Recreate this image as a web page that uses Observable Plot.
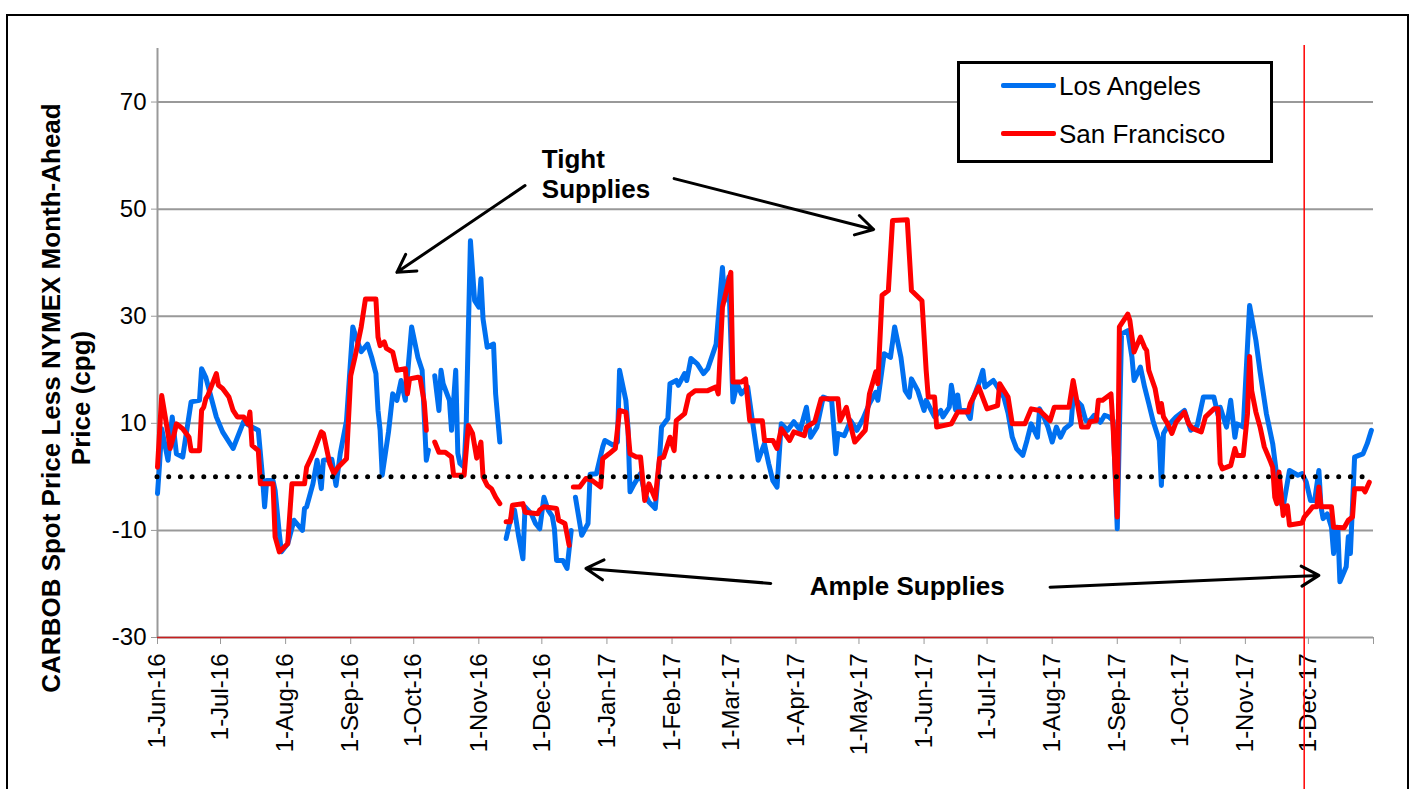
<!DOCTYPE html>
<html>
<head>
<meta charset="utf-8">
<script src="https://cdn.jsdelivr.net/npm/d3@7"></script>
<script src="https://cdn.jsdelivr.net/npm/@observablehq/plot@0.6"></script>
<style>
  html, body { margin: 0; padding: 0; background: #fff; }
  #wrap { position: relative; width: 1415px; height: 789px; overflow: hidden; font-family: "Liberation Sans", Arial, sans-serif; }
  #chart { position: absolute; left: 0; top: 0; }
  #frame { position: absolute; left: 6px; top: 14px; width: 1403px; height: 820px; border: 2px solid #000; box-sizing: border-box; pointer-events: none; }
  #legend { position: absolute; left: 957px; top: 61px; width: 316px; height: 102px; border: 3px solid #000; box-sizing: border-box; background: #fff; }
  .item { position: absolute; left: 0; width: 100%; height: 30px; }
  .swatch { position: absolute; left: 41px; width: 55px; height: 5px; top: 12px; border-radius: 2px; }
  .label { position: absolute; left: 99px; top: 0; font-size: 26px; line-height: 30px; color: #000; white-space: nowrap; }
</style>
</head>
<body>
<div id="wrap">
  <div id="chart"></div>
  <div id="frame"></div>
  <div id="legend"></div>
</div>
<script>
// ---------------- data ----------------
const seriesNames = ["Los Angeles", "San Francisco"];

const laSeries = [
  ["2016-06-01",-3.1],["2016-06-02",2.5],["2016-06-03",9],["2016-06-06",3.1],["2016-06-08",11.2],["2016-06-10",4.3],
  ["2016-06-13",3.7],["2016-06-17",14],["2016-06-21",14.3],["2016-06-22",20.2],["2016-06-24",18.6],["2016-06-29",11.2],
  ["2016-07-02",8.4],["2016-07-07",5.3],["2016-07-12",10.3],["2016-07-15",9.5],["2016-07-19",8.7],["2016-07-21",0],
  ["2016-07-22",-5.6],["2016-07-23",-0.7],["2016-07-26",-0.7],["2016-07-27",-2.5],["2016-07-29",-10.6],["2016-07-30",-14],
  ["2016-08-02",-12.5],["2016-08-05",-8.1],["2016-08-09",-10],["2016-08-10",-5.9],["2016-08-11",-5.6],["2016-08-14",-1.3],
  ["2016-08-16",3.1],["2016-08-18",-2.2],["2016-08-19",3.1],["2016-08-23",3.3],["2016-08-25",-1.6],["2016-08-27",4.3],
  ["2016-08-30",10.5],["2016-09-02",28],["2016-09-04",25.5],["2016-09-06",23.4],["2016-09-09",24.8],["2016-09-11",22.3],
  ["2016-09-13",19.3],["2016-09-14",12.4],["2016-09-15",8.7],["2016-09-16",0.3],["2016-09-19",8.4],["2016-09-21",15.5],
  ["2016-09-23",14.3],["2016-09-25",18],["2016-09-27",14.3],["2016-09-30",28],["2016-10-03",22.3],["2016-10-05",19.9],
  ["2016-10-07",3.1],["2016-10-08",5],["2016-10-09",null],
  ["2016-10-11",18.9],["2016-10-13",12.4],["2016-10-14",19.9],["2016-10-15",17.4],["2016-10-18",14.3],["2016-10-19",8.7],
  ["2016-10-21",19.9],["2016-10-22",4.4],["2016-10-23",2.5],["2016-10-25",1.8],["2016-10-26",9.9],["2016-10-28",44.1],
  ["2016-10-30",32.9],["2016-11-01",31.7],["2016-11-02",37],["2016-11-03",29.5],["2016-11-05",24.2],["2016-11-08",24.8],
  ["2016-11-09",15.5],["2016-11-11",6.5],["2016-11-12",null],
  ["2016-11-14",-11.5],["2016-11-16",-8.1],["2016-11-18",-6.2],["2016-11-20",-11.2],["2016-11-22",-15.3],["2016-11-23",-5.6],
  ["2016-11-26",-6.9],["2016-11-28",-8.7],["2016-11-30",-9.7],["2016-12-02",-3.8],["2016-12-04",-6.2],["2016-12-06",-7.4],
  ["2016-12-07",-9.7],["2016-12-08",-15.6],["2016-12-11",-15.6],["2016-12-13",-17.1],["2016-12-15",-10],["2016-12-16",null],
  ["2016-12-17",-3.8],["2016-12-20",-10.9],["2016-12-23",-8.7],["2016-12-24",0.5],["2016-12-27",0.6],["2016-12-30",5.6],
  ["2016-12-31",6.8],["2017-01-04",5.9],["2017-01-06",6.5],["2017-01-07",19.9],["2017-01-10",14.3],["2017-01-11",9.3],
  ["2017-01-12",-2.8],["2017-01-14",-1.3],["2017-01-17",0.6],["2017-01-19",-3.1],["2017-01-21",-4.7],["2017-01-24",-5.9],
  ["2017-01-26",3.1],["2017-01-27",9.3],["2017-01-30",10.9],["2017-01-31",17.4],["2017-02-03",18],["2017-02-04",17.1],
  ["2017-02-07",19.3],["2017-02-08",18],["2017-02-10",22.1],["2017-02-13",21.1],["2017-02-16",19.3],["2017-02-18",20.2],
  ["2017-02-22",24.8],["2017-02-25",39.1],["2017-02-26",32.9],["2017-02-28",37.3],["2017-03-02",14],["2017-03-04",17.4],
  ["2017-03-06",15.5],["2017-03-09",16.8],["2017-03-11",11.2],["2017-03-14",3.1],["2017-03-17",6.2],["2017-03-19",2.5],
  ["2017-03-21",-0.7],["2017-03-23",-1.9],["2017-03-25",9.9],["2017-03-28",8.7],["2017-03-31",10.3],["2017-04-03",8.7],
  ["2017-04-06",13],["2017-04-08",7.4],["2017-04-11",9.3],["2017-04-14",14.9],["2017-04-18",14.3],["2017-04-20",4.3],
  ["2017-04-21",8.1],["2017-04-24",7.7],["2017-04-27",10.5],["2017-04-30",8.7],["2017-05-03",10.9],["2017-05-06",13.7],
  ["2017-05-09",15.8],["2017-05-10",14.3],["2017-05-13",23],["2017-05-16",22.3],["2017-05-18",28],["2017-05-21",22.3],
  ["2017-05-23",16.1],["2017-05-25",14.9],["2017-05-26",18.3],["2017-05-29",16.1],["2017-06-01",12.4],["2017-06-02",14.3],
  ["2017-06-06",11.2],["2017-06-09",12.4],["2017-06-10",11.2],["2017-06-13",13],["2017-06-14",17.1],["2017-06-16",12.5],
  ["2017-06-17",15.3],["2017-06-18",12.4],["2017-06-21",12.4],["2017-06-23",10.9],["2017-06-24",14.3],["2017-06-27",17.4],
  ["2017-06-29",19.9],["2017-06-30",16.8],["2017-07-03",17.7],["2017-07-04",18],["2017-07-09",14.9],["2017-07-11",11.9],
  ["2017-07-13",7.4],["2017-07-15",5.3],["2017-07-18",4],["2017-07-20",6.8],["2017-07-22",9.9],["2017-07-25",7.4],
  ["2017-07-26",12.7],["2017-07-28",11.2],["2017-07-30",9.3],["2017-08-01",6.5],["2017-08-03",9.3],["2017-08-05",7.4],
  ["2017-08-07",9],["2017-08-10",9.9],["2017-08-11",14.9],["2017-08-15",13.3],["2017-08-17",10.5],["2017-08-19",10.5],
  ["2017-08-21",11.5],["2017-08-24",10.2],["2017-08-26",11.5],["2017-08-28",11.2],["2017-08-30",10.5],["2017-09-01",-9.7],
  ["2017-09-03",26.7],["2017-09-06",27.3],["2017-09-08",22.3],["2017-09-09",18],["2017-09-12",20.5],["2017-09-14",16.8],
  ["2017-09-16",13.7],["2017-09-18",10.5],["2017-09-21",6.8],["2017-09-22",-1.6],["2017-09-23",8.1],["2017-09-25",9.5],
  ["2017-09-29",11.2],["2017-10-03",12.4],["2017-10-06",8.7],["2017-10-09",9.5],["2017-10-12",14.9],["2017-10-17",14.9],
  ["2017-10-19",11.5],["2017-10-20",13],["2017-10-23",9.3],["2017-10-25",14.3],["2017-10-27",7.4],["2017-10-28",9.9],
  ["2017-10-31",9.3],["2017-11-03",32],["2017-11-06",25.5],["2017-11-08",19.6],["2017-11-11",11.8],["2017-11-14",6.2],
  ["2017-11-16",0],["2017-11-17",-4.4],["2017-11-19",-5.6],["2017-11-22",1.2],["2017-11-26",0.3],["2017-11-28",0.6],
  ["2017-11-30",-1],["2017-12-02",-4.4],["2017-12-04",-4.4],["2017-12-06",1.2],["2017-12-07",-5.6],["2017-12-08",-7.8],
  ["2017-12-10",-6.9],["2017-12-12",-9.4],["2017-12-13",-14.3],["2017-12-14",-9.4],["2017-12-15",-9.4],["2017-12-16",-19.6],
  ["2017-12-19",-16.8],["2017-12-20",-11.2],["2017-12-21",-14.3],["2017-12-23",3.7],["2017-12-25",4],["2017-12-27",4.3],
  ["2017-12-29",6.2],["2017-12-31",8.7]
];

const sfSeries = [
  ["2016-06-01",1.8],["2016-06-03",15.2],["2016-06-06",8.1],["2016-06-07",5.3],["2016-06-09",8.1],["2016-06-10",9.9],
  ["2016-06-13",9],["2016-06-16",7.4],["2016-06-17",4.9],["2016-06-21",4.9],["2016-06-22",12.4],["2016-06-23",13],
  ["2016-06-24",14.6],["2016-06-25",15.2],["2016-06-29",19.3],["2016-06-30",17.1],["2016-07-02",16.5],["2016-07-05",14.9],
  ["2016-07-07",12.4],["2016-07-09",11.2],["2016-07-12",11.2],["2016-07-14",9.9],["2016-07-15",12.1],["2016-07-16",5.9],
  ["2016-07-19",4.9],["2016-07-20",-1.3],["2016-07-23",-1.3],["2016-07-26",-1.3],["2016-07-27",-11.2],["2016-07-29",-14],
  ["2016-08-02",-12.5],["2016-08-04",-1.3],["2016-08-10",-1.3],["2016-08-11",1.8],["2016-08-14",4.3],["2016-08-18",8.4],
  ["2016-08-19",8.1],["2016-08-22",2.5],["2016-08-24",0.6],["2016-08-26",1.8],["2016-08-30",3.4],["2016-09-01",18.9],
  ["2016-09-03",22.3],["2016-09-06",28],["2016-09-08",33.2],["2016-09-13",33.2],["2016-09-14",26.1],["2016-09-15",24.5],
  ["2016-09-17",25.2],["2016-09-18",24],["2016-09-21",23.3],["2016-09-23",19.9],["2016-09-27",20.2],["2016-09-28",15.5],
  ["2016-09-29",18.3],["2016-10-03",18.6],["2016-10-04",18.5],["2016-10-06",14],["2016-10-07",8.7],["2016-10-09",null],
  ["2016-10-11",6.5],["2016-10-13",4.6],["2016-10-16",4.6],["2016-10-19",3.7],["2016-10-20",0.3],["2016-10-25",0.3],
  ["2016-10-27",9.6],["2016-10-29",8.1],["2016-10-31",3.5],["2016-11-02",6.5],["2016-11-03",0],["2016-11-05",-1.6],
  ["2016-11-07",-2.2],["2016-11-09",-3.8],["2016-11-11",-5],["2016-11-12",null],
  ["2016-11-14",-8.4],["2016-11-16",-8.4],["2016-11-17",-5.3],["2016-11-22",-5],["2016-11-23",-6.6],["2016-11-29",-6.9],
  ["2016-11-30",-6.2],["2016-12-02",-5.6],["2016-12-08",-5.9],["2016-12-09",-8.1],["2016-12-12",-8.7],["2016-12-14",-12.8],
  ["2016-12-15",null],
  ["2016-12-16",-1.9],["2016-12-19",-1.9],["2016-12-22",-0.3],["2016-12-25",-0.7],["2016-12-27",-1.3],["2016-12-29",-1.9],
  ["2016-12-30",3.4],["2017-01-02",4.3],["2017-01-05",5.3],["2017-01-07",12.4],["2017-01-10",12.1],["2017-01-11",8.7],
  ["2017-01-12",4.3],["2017-01-15",3.7],["2017-01-17",3.7],["2017-01-19",-4.4],["2017-01-21",-1.3],["2017-01-24",-4.1],
  ["2017-01-26",3.4],["2017-01-28",3.7],["2017-01-31",7.4],["2017-02-02",4.9],["2017-02-03",10.5],["2017-02-07",11.8],
  ["2017-02-09",15.2],["2017-02-12",16.1],["2017-02-18",16.1],["2017-02-22",16.8],["2017-02-23",15.5],["2017-02-25",31.7],
  ["2017-03-01",38.2],["2017-03-02",17.7],["2017-03-06",17.7],["2017-03-08",18.3],["2017-03-10",10.5],["2017-03-16",10.5],
  ["2017-03-17",6.8],["2017-03-21",6.8],["2017-03-23",5.3],["2017-03-25",9],["2017-03-29",6.8],["2017-03-31",8.4],
  ["2017-04-05",7.7],["2017-04-06",9.3],["2017-04-10",10.3],["2017-04-13",14.6],["2017-04-21",14.6],["2017-04-22",10.5],
  ["2017-04-25",13],["2017-04-26",11.2],["2017-04-29",6.5],["2017-05-04",8.7],["2017-05-06",15.5],["2017-05-09",19.6],
  ["2017-05-10",17.4],["2017-05-12",33.9],["2017-05-15",34.8],["2017-05-17",47.9],["2017-05-24",48],["2017-05-26",34.8],
  ["2017-05-31",32.9],["2017-06-02",19.9],["2017-06-03",14.9],["2017-06-06",14.9],["2017-06-07",9.3],["2017-06-14",9.9],
  ["2017-06-17",12.1],["2017-06-22",12.1],["2017-06-23",13.7],["2017-06-27",16.8],["2017-07-01",12.7],["2017-07-06",13.3],
  ["2017-07-07",17.4],["2017-07-11",14.9],["2017-07-13",9.9],["2017-07-19",9.9],["2017-07-22",12.7],["2017-07-26",12.4],
  ["2017-07-31",10.5],["2017-08-02",13],["2017-08-09",13],["2017-08-11",18],["2017-08-15",9.3],["2017-08-18",9.3],
  ["2017-08-19",10.3],["2017-08-22",10.5],["2017-08-23",14.3],["2017-08-25",14.3],["2017-08-29",15.5],["2017-08-30",9.3],
  ["2017-09-01",-7.5],["2017-09-02",28],["2017-09-06",30.4],["2017-09-07",29.2],["2017-09-09",23.3],["2017-09-12",26.1],
  ["2017-09-14",24.2],["2017-09-15",23.6],["2017-09-16",19.9],["2017-09-19",16.5],["2017-09-21",12.1],["2017-09-22",13.7],
  ["2017-09-23",11.2],["2017-09-25",9.9],["2017-09-27",8.1],["2017-09-29",10.2],["2017-10-03",12.1],["2017-10-05",9.9],
  ["2017-10-07",9],["2017-10-11",8.4],["2017-10-13",11.2],["2017-10-17",12.7],["2017-10-19",12.7],["2017-10-20",2.5],
  ["2017-10-21",1.5],["2017-10-25",2.1],["2017-10-27",5.3],["2017-10-28",4],["2017-10-31",4],["2017-11-02",11.8],
  ["2017-11-03",22.5],["2017-11-04",16.1],["2017-11-06",12.1],["2017-11-08",9.3],["2017-11-10",5.6],["2017-11-13",2.8],
  ["2017-11-14",1.8],["2017-11-15",-3.8],["2017-11-16",-5],["2017-11-17",0.9],["2017-11-19",-7.2],["2017-11-20",-5.6],
  ["2017-11-21",-5.4],["2017-11-22",-9],["2017-11-28",-8.6],["2017-11-29",-7.5],["2017-12-01",-6.6],["2017-12-03",-5.6],
  ["2017-12-05",-5.6],["2017-12-06",-1.9],["2017-12-07",-5.6],["2017-12-12",-5.6],["2017-12-13",-9.4],["2017-12-18",-9.5],
  ["2017-12-20",-8.1],["2017-12-22",-7.5],["2017-12-23",-2.2],["2017-12-27",-2.2],["2017-12-28",-2.8],["2017-12-30",-1]
];

const yTicks = [-30, -10, 10, 30, 50, 70];
const yDomain = [-30, 80];
const xTickLabels = ["1-Jun-16","1-Jul-16","1-Aug-16","1-Sep-16","1-Oct-16","1-Nov-16","1-Dec-16","1-Jan-17",
  "1-Feb-17","1-Mar-17","1-Apr-17","1-May-17","1-Jun-17","1-Jul-17","1-Aug-17","1-Sep-17","1-Oct-17","1-Nov-17","1-Dec-17"];
const xDomain = ["2016-06-01", "2018-01-01"];
const yTitle = "CARBOB Spot Price Less NYMEX Month-Ahead\nPrice (cpg)";
const markerDate = "2017-11-29";
const zeroLine = 0;

const noteTexts = ["Tight\nSupplies", "Ample Supplies"];
const noteDates = ["2016-12-01", "2017-05-24"];
const noteValues = [56.6, -20.5];

const arrowStarts = [["2016-11-23", 54.4], ["2017-02-02", 55.7], ["2017-03-20", -19.9], ["2017-07-31", -20.6]];
const arrowEnds   = [["2016-09-23", 38.2], ["2017-05-08", 46.2], ["2016-12-22", -17.1], ["2017-12-06", -18.4]];

// ---------------- styles ----------------
const colors = ["#0070F0", "#FF0000"];
const FONT = "'Liberation Sans', Arial, sans-serif";

// ---------------- build ----------------
const parse = d3.utcParse("%Y-%m-%d");
const parseTick = d3.utcParse("%d-%b-%y");
const toRows = (s, name) => s.map(([d, v]) => ({date: parse(d), value: v, name}));
const la = toRows(laSeries, seriesNames[0]);
const sf = toRows(sfSeries, seriesNames[1]);

const tickDates = xTickLabels.map(parseTick);
const xEnd = parse(xDomain[1]);
const allTicks = [...tickDates, xEnd];
const labelByTime = new Map(tickDates.map((d, i) => [+d, xTickLabels[i]]));

const marker = parse(markerDate);
const arrows = arrowStarts.map((s, i) => ({x1: parse(s[0]), y1: s[1], x2: parse(arrowEnds[i][0]), y2: arrowEnds[i][1]}));
const notes = noteTexts.map((t, i) => ({text: t, date: parse(noteDates[i]), value: noteValues[i]}));

const chart = Plot.plot({
  width: 1415,
  height: 789,
  marginLeft: 157,
  marginRight: 42,
  marginTop: 48,
  marginBottom: 152,
  style: {fontFamily: FONT, background: "transparent", color: "#000", overflow: "visible"},
  x: {type: "utc", domain: [parse(xDomain[0]), xEnd]},
  y: {domain: yDomain},
  marks: [
    Plot.gridY(yTicks, {stroke: "#999", strokeOpacity: 1, strokeWidth: 2}),
    Plot.ruleX([parse(xDomain[0])], {stroke: "#999", strokeWidth: 2}),
    Plot.axisY({ticks: yTicks, tickSize: 6, tickPadding: 5, fontSize: 24, stroke: "#999", fill: "#000",
      tickFormat: d => `${d}`, label: null}),
    Plot.axisX({ticks: allTicks, tickSize: 7, tickPadding: 9, tickRotate: -90, fontSize: 24,
      textAnchor: "end", lineAnchor: "middle", stroke: "#999", fill: "#000",
      tickFormat: d => labelByTime.get(+d) ?? "", label: null}),
    Plot.ruleY([yDomain[0]], {x1: parse(xDomain[0]), x2: marker, stroke: "#c81e1e", strokeWidth: 1.5}),
    Plot.line(la, {x: "date", y: "value", stroke: colors[0], strokeWidth: 5, strokeLinejoin: "round", strokeLinecap: "round"}),
    Plot.line(sf, {x: "date", y: "value", stroke: colors[1], strokeWidth: 5, strokeLinejoin: "round", strokeLinecap: "round"}),
    Plot.ruleY([zeroLine], {stroke: "#000", strokeWidth: 5, strokeDasharray: "0 11.7", strokeLinecap: "round"}),
    Plot.ruleX([marker], {stroke: "#ff0000", strokeWidth: 1.5, insetTop: -3, insetBottom: -170}),
    Plot.text([yTitle], {text: d => d, frameAnchor: "left", dx: -92, dy: 55, rotate: -90, fontSize: 26,
      fontWeight: "bold", lineHeight: 1.15, textAnchor: "middle", lineAnchor: "middle", fill: "#000"}),
    Plot.text(notes.slice(0, 1), {x: "date", y: "value", text: "text", fontSize: 26, fontWeight: "bold",
      lineHeight: 1.15, textAnchor: "start", lineAnchor: "middle", fill: "#000"}),
    Plot.text(notes.slice(1), {x: "date", y: "value", text: "text", fontSize: 26, fontWeight: "bold",
      textAnchor: "middle", lineAnchor: "middle", fill: "#000"}),
    Plot.arrow(arrows, {x1: "x1", y1: "y1", x2: "x2", y2: "y2", stroke: "#000", strokeWidth: 3, headLength: 10, headAngle: 60})
  ]
});
document.getElementById("chart").appendChild(chart);

// legend
const legend = document.getElementById("legend");
seriesNames.forEach((name, i) => {
  const item = document.createElement("div");
  item.className = "item";
  item.style.top = (i === 0 ? 7 : 55) + "px";
  const sw = document.createElement("div");
  sw.className = "swatch";
  sw.style.background = colors[i];
  const lab = document.createElement("div");
  lab.className = "label";
  lab.textContent = name;
  item.appendChild(sw);
  item.appendChild(lab);
  legend.appendChild(item);
});
</script>
</body>
</html>
